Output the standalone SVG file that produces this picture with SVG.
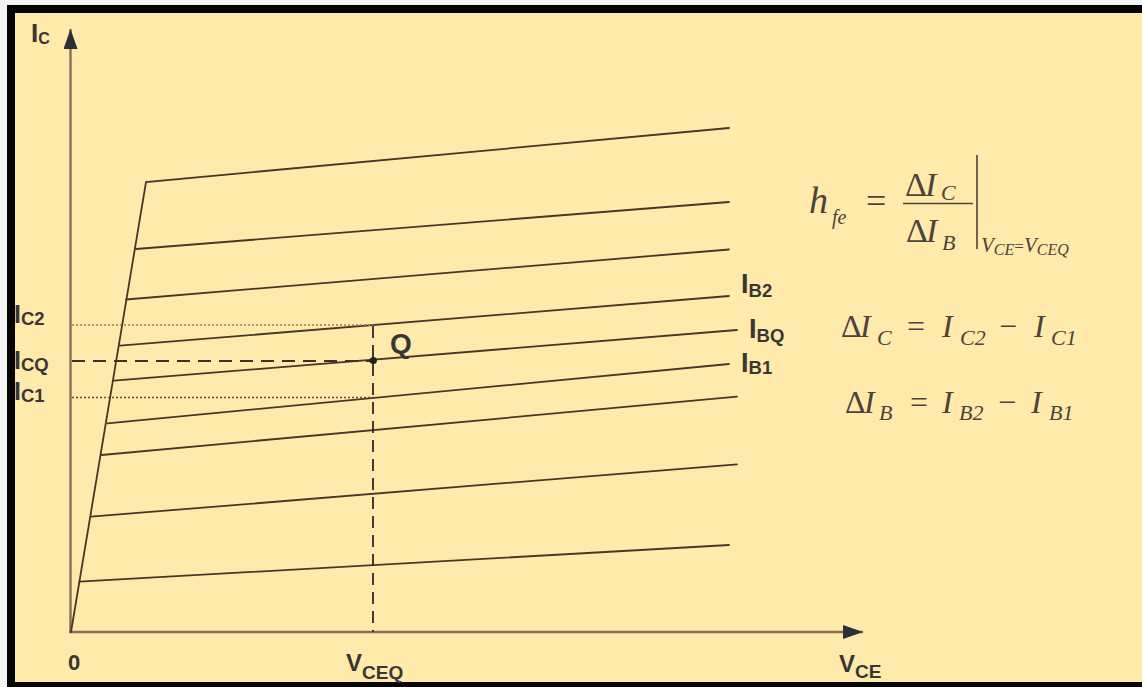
<svg xmlns="http://www.w3.org/2000/svg" width="1142" height="687" viewBox="0 0 1142 687">
<style>
.curve{stroke:#4a3629;stroke-width:1.8;fill:none;stroke-linecap:round}
.axis{stroke:#8a6a58;stroke-width:2.4;fill:none}
.lbl{font-family:"Liberation Sans",Arial,sans-serif;font-weight:bold;fill:#3a3636}
.m{font-family:"Liberation Serif","Times New Roman",serif;font-style:italic;fill:#4d423c}
.mu{font-family:"Liberation Serif","Times New Roman",serif;font-style:normal;fill:#4d423c}
</style>
<defs>
<marker id="ah" viewBox="0 0 20 14" refX="20" refY="7" markerWidth="20" markerHeight="14" markerUnits="userSpaceOnUse" orient="auto">
<path d="M0,0 L20,7 L0,14 Z" fill="#2b2f36"/>
</marker>
</defs>
<rect x="0" y="0" width="1142" height="687" fill="#f4f4f4"/>
<rect x="7" y="5" width="1135" height="682" fill="#050505"/>
<rect x="15" y="13" width="1127" height="669" fill="#feeaaa"/>

<g id="axes">
<line class="axis" x1="70.5" y1="633" x2="70.5" y2="29" marker-end="url(#ah)"/>
<line class="axis" x1="69" y1="632" x2="863" y2="632" marker-end="url(#ah)"/>
</g>

<g id="curves">
<polyline class="curve" points="71,632 146,182 729,128"/>
<line class="curve" x1="136" y1="249" x2="729" y2="202"/>
<line class="curve" x1="126" y1="299.5" x2="729" y2="249.5"/>
<line class="curve" x1="120" y1="345.7" x2="729" y2="296"/>
<line class="curve" x1="114" y1="380.7" x2="737" y2="330"/>
<line class="curve" x1="107.3" y1="423.3" x2="729" y2="364"/>
<line class="curve" x1="101.7" y1="455" x2="737" y2="396.7"/>
<line class="curve" x1="91" y1="516.7" x2="737" y2="464.3"/>
<line class="curve" x1="79.3" y1="581.7" x2="729" y2="545"/>
</g>

<g id="guides">
<line x1="72" y1="325" x2="373" y2="325" stroke="#b5714f" stroke-width="1.6" stroke-dasharray="2 2"/>
<line x1="72" y1="397.5" x2="373" y2="397.5" stroke="#6e4a3c" stroke-width="1.6" stroke-dasharray="2 2"/>
<line x1="72" y1="361" x2="373" y2="361" stroke="#3a3030" stroke-width="1.8" stroke-dasharray="13 8"/>
<line x1="373" y1="326" x2="373" y2="632" stroke="#2e2a2a" stroke-width="1.8" stroke-dasharray="12 7"/>
<circle cx="373.3" cy="360.5" r="3.6" fill="#1e1e1e"/>
</g>

<g id="labels">
<text class="lbl" x="31" y="42" font-size="26">I<tspan font-size="16" dy="2">C</tspan></text>
<text class="lbl" x="14" y="323" font-size="25">I<tspan font-size="18.5" dy="2">C2</tspan></text>
<text class="lbl" x="14" y="369" font-size="25">I<tspan font-size="18.5" dy="2">CQ</tspan></text>
<text class="lbl" x="14" y="400" font-size="25">I<tspan font-size="18.5" dy="2">C1</tspan></text>
<text class="lbl" x="741" y="293" font-size="27">I<tspan font-size="18.5" dy="4">B2</tspan></text>
<text class="lbl" x="749" y="338" font-size="27">I<tspan font-size="18.5" dy="4">BQ</tspan></text>
<text class="lbl" x="741" y="372" font-size="27">I<tspan font-size="18.5" dy="2">B1</tspan></text>
<text class="lbl" x="390" y="353" font-size="28">Q</text>
<text class="lbl" x="68" y="670" font-size="22">0</text>
<text class="lbl" x="346" y="671" font-size="24">V<tspan font-size="19" dy="8">CEQ</tspan></text>
<text class="lbl" x="839" y="672" font-size="24">V<tspan font-size="19" dy="6">CE</tspan></text>
</g>

<g id="formula-hfe">
<text class="m" x="809" y="213" font-size="38">h</text>
<text class="m" x="832" y="224" font-size="20">fe</text>
<text class="mu" x="866" y="213" font-size="36">=</text>
<line x1="903" y1="203.5" x2="973" y2="203.5" stroke="#4d423c" stroke-width="1.6"/>
<text class="mu" x="905" y="196" font-size="34">Δ</text>
<text class="m" x="925" y="196" font-size="34">I</text>
<text class="m" x="941" y="200" font-size="22">C</text>
<text class="mu" x="906" y="242" font-size="34">Δ</text>
<text class="m" x="926" y="242" font-size="34">I</text>
<text class="m" x="942" y="250" font-size="22">B</text>
<line x1="977" y1="155" x2="977" y2="249" stroke="#4d423c" stroke-width="1.6"/>
<text class="m" x="981" y="252" font-size="21">V<tspan font-size="16" dy="3">CE</tspan><tspan class="mu" font-style="normal" font-size="17" dy="-3">=</tspan>V<tspan font-size="16" dy="3">CEQ</tspan></text>
</g>

<g id="formula-dic">
<text class="mu" x="841" y="337" font-size="32">Δ</text>
<text class="m" x="860" y="337" font-size="32">I</text>
<text class="m" x="877" y="345" font-size="22">C</text>
<text class="mu" x="907" y="337" font-size="32">=</text>
<text class="m" x="942" y="337" font-size="32">I</text>
<text class="m" x="960" y="345" font-size="22">C2</text>
<text class="mu" x="999" y="337" font-size="32">−</text>
<text class="m" x="1034" y="337" font-size="32">I</text>
<text class="m" x="1051" y="345" font-size="22">C1</text>
</g>

<g id="formula-dib">
<text class="mu" x="845" y="413" font-size="32">Δ</text>
<text class="m" x="864" y="413" font-size="32">I</text>
<text class="m" x="879" y="420" font-size="22">B</text>
<text class="mu" x="910" y="413" font-size="32">=</text>
<text class="m" x="942" y="413" font-size="32">I</text>
<text class="m" x="959" y="420" font-size="22">B2</text>
<text class="mu" x="998" y="413" font-size="32">−</text>
<text class="m" x="1031" y="413" font-size="32">I</text>
<text class="m" x="1049" y="420" font-size="22">B1</text>
</g>
</svg>
